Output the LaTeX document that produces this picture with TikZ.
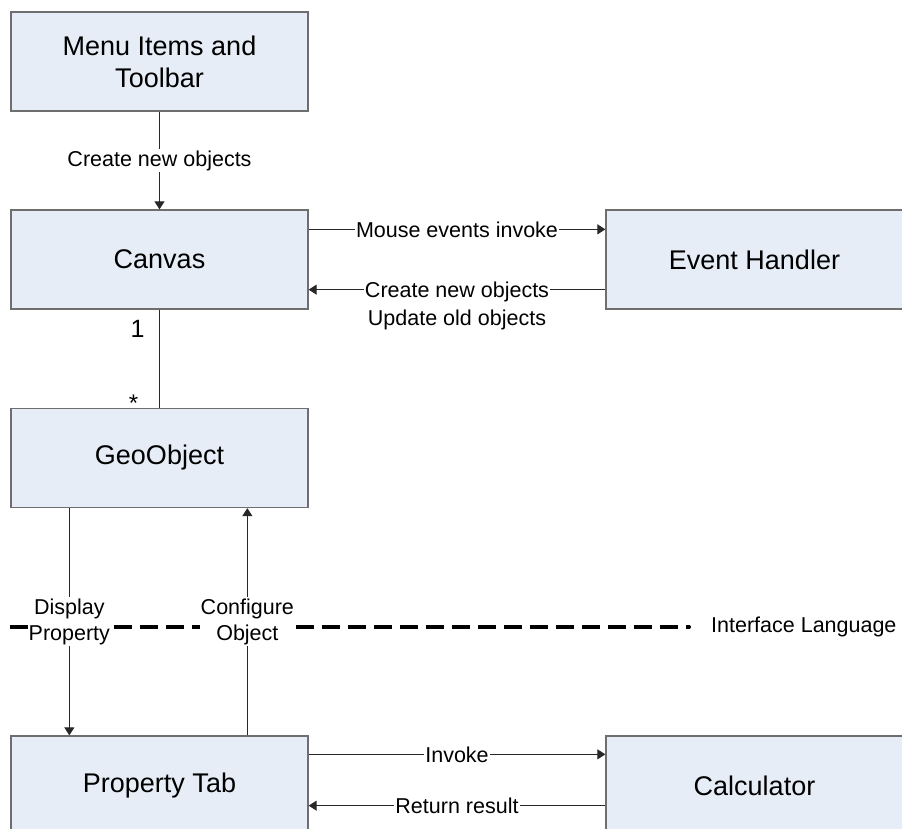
\documentclass[tikz,border=0pt]{standalone}
\usepackage{fontspec}
\setmainfont{Liberation Sans}
\usetikzlibrary{arrows.meta,calc}
\definecolor{boxfill}{RGB}{231,237,247}
\definecolor{boxline}{RGB}{110,110,110}
\definecolor{conn}{RGB}{40,40,40}
\tikzset{
  box/.style={draw=boxline, fill=boxfill, line width=1.3pt, minimum width=297pt, minimum height=99pt,
    inner sep=0pt, align=center, font=\fontsize{27}{32}\selectfont},
  conline/.style={draw=conn, line width=1.1pt},
  arr/.style={conline, -{Triangle[length=8pt,width=10pt]}},
  lbl/.style={fill=white, inner sep=1pt, align=center, font=\fontsize{21.5}{28}\selectfont},
  lbltwo/.style={fill=white, inner sep=1pt, align=center, font=\fontsize{21.5}{26.5}\selectfont},
  sepline/.style={line width=4pt, dash pattern=on 18pt off 8pt, black}
}
\begin{document}
\begin{tikzpicture}[x=1pt,y=-1pt]
\useasboundingbox[fill=white] (0,0) rectangle (902,829);
% boxes
\node[box] (menu) at (159.5,61.5) {Menu Items and\\Toolbar};
\node[box] (canvas) at (159.5,259.5) {Canvas};
\node[box] (eh) at (754.5,259.5) {Event Handler};
\node[box] (geo) at (159.5,458) {GeoObject};
\node[box] (prop) at (159.5,785.5) {Property Tab};
\node[box] (calc) at (754.5,785.5) {Calculator};
% separator
\node[anchor=west, inner sep=0pt, font=\fontsize{21.5}{26}\selectfont] (lang) at (711,627) {Interface Language};
\coordinate (dstart) at (10,627);
\draw[sepline] (dstart) -- ($(lang.west)+(-21,0)$);
\fill[black] ($(lang.west)+(-22,0)$) circle (2pt);
% connectors
\draw[arr] (menu.south) -- node[lbl]{Create new objects} (canvas.north);
\draw[arr] ($(canvas.north east)+(0,20)$) -- node[lbl]{Mouse events invoke} ($(eh.north west)+(0,20)$);
\draw[arr] ($(eh.south west)+(0,-20)$) -- node[lbl, anchor=north, yshift=9pt]{Create new objects\\Update old objects} ($(canvas.south east)+(0,-20)$);
\draw[conline] (canvas.south) -- (geo.north);
\node[font=\fontsize{25}{30}\selectfont, inner sep=0pt] (one) at ($(canvas.south)+(-22,19)$) {1};
\node[font=\fontsize{24}{30}\selectfont, inner sep=0pt] (many) at ($(geo.north)+(-26,-5)$) {*};
\draw[arr] ($(geo.south west)+(59,0)$) -- node[lbltwo]{Display\\Property} ($(prop.north west)+(59,0)$);
\draw[arr] ($(prop.north west)+(237,0)$) -- node[lbltwo]{Configure\\Object} ($(geo.south west)+(237,0)$);
\draw[arr] ($(prop.north east)+(0,19)$) -- node[lbl]{Invoke} ($(calc.north west)+(0,19)$);
\draw[arr] ($(calc.south west)+(0,-30)$) -- node[lbl]{Return result} ($(prop.south east)+(0,-30)$);
\end{tikzpicture}
\end{document}
